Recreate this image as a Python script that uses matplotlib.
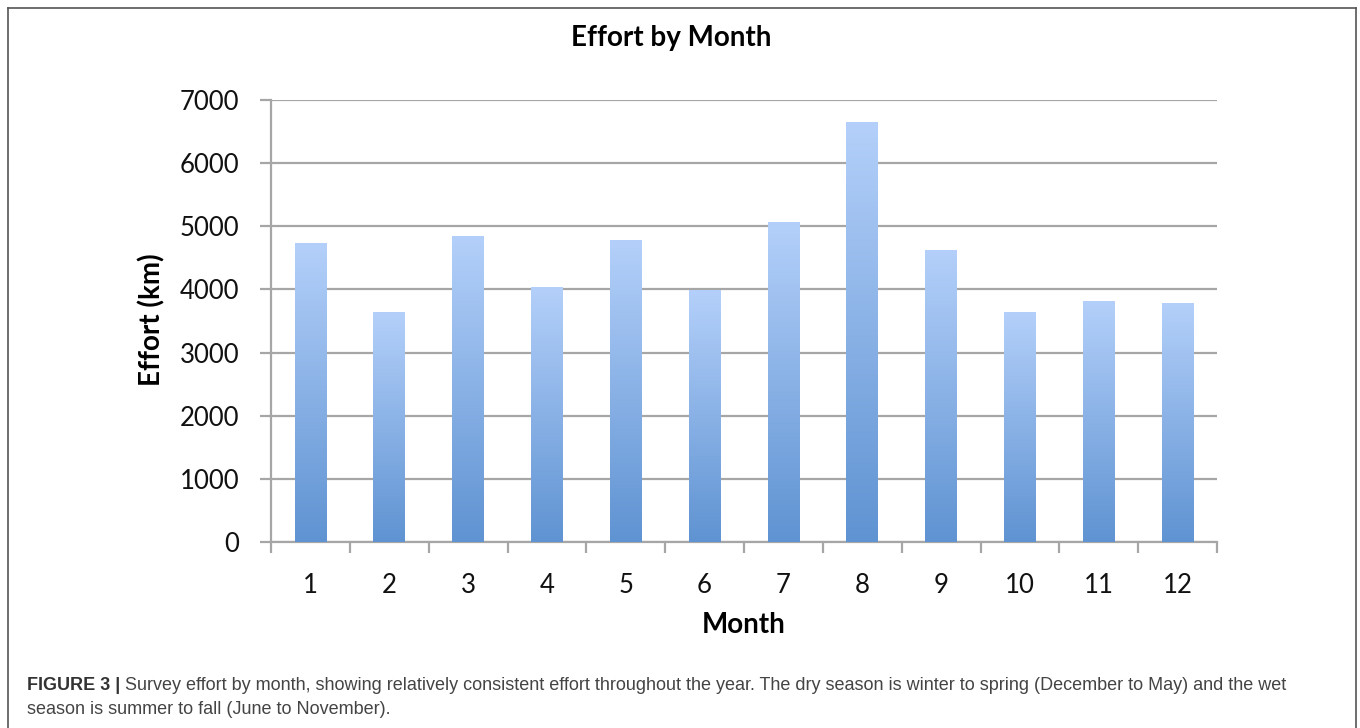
import numpy as np
import matplotlib.pyplot as plt
from matplotlib.lines import Line2D
from matplotlib.colors import LinearSegmentedColormap

# =========================
# Data
# =========================
months = [1, 2, 3, 4, 5, 6, 7, 8, 9, 10, 11, 12]
effort_km = [4740, 3640, 4850, 4040, 4780, 3990, 5060, 6650, 4630, 3650, 3820, 3790]
y_ticks = [0, 1000, 2000, 3000, 4000, 5000, 6000, 7000]

title = "Effort by Month"
xlabel = "Month"
ylabel = "Effort (km)"
caption_bold = "FIGURE 3 |"
caption_line1 = (" Survey effort by month, showing relatively consistent effort throughout "
                 "the year. The dry season is winter to spring (December to May) and the wet")
caption_line2 = "season is summer to fall (June to November)."

# =========================
# Style
# =========================
W, H, DPI = 1360, 728, 100
grid_col = "#a6a6a6"
txt_font = ["Lato", "DejaVu Sans"]
cap_font = ["Liberation Sans", "DejaVu Sans"]

fig = plt.figure(figsize=(W / DPI, H / DPI), dpi=DPI)
fig.patch.set_facecolor("white")

# plot box in pixels: left 271, right 1217, top 100, bottom 542
ax = fig.add_axes([271 / W, 1 - 542 / H, (1217 - 271) / W, (542 - 100) / H])

# gradient bars, light at top, darker at bottom
bar_cmap = LinearSegmentedColormap.from_list("bar", ["#5f93d2", "#b4d0fa"])
grad = np.linspace(0, 1, 256).reshape(-1, 1)
bars = ax.bar(months, effort_km, width=0.4, color="none", edgecolor="none", zorder=3)
for b, m, v in zip(bars, months, effort_km):
    im = ax.imshow(grad, cmap=bar_cmap, origin="lower", aspect="auto",
                   extent=[m - 0.2, m + 0.2, 0, v], zorder=3, interpolation="bicubic")
    im.set_clip_path(b)

ax.set_xlim(0.5, 12.5)
ax.set_ylim(0, 7000)

# grid + axes
ax.set_yticks(y_ticks)
ax.yaxis.grid(True, color=grid_col, linewidth=1.6)
ax.set_axisbelow(True)
for s in ["top", "right"]:
    ax.spines[s].set_visible(False)
for s in ["left", "bottom"]:
    ax.spines[s].set_color(grid_col)
    ax.spines[s].set_linewidth(1.6)

ax.set_xticks(months)
ax.set_xticks(np.arange(0.5, 13, 1.0), minor=True)
ax.tick_params(axis="x", which="major", length=0, pad=22)
ax.tick_params(axis="x", which="minor", length=8, width=1.6, color=grid_col, direction="out")
ax.tick_params(axis="y", which="major", length=8, width=1.6, color=grid_col, pad=15)

for lab in ax.get_xticklabels() + ax.get_yticklabels():
    lab.set_fontfamily(txt_font)
    lab.set_fontsize(18.5)
    lab.set_color("#111111")

# titles
fig.text(671 / W, 1 - 38 / H, title, ha="center", va="center",
         fontsize=20, fontweight="bold", family=txt_font)
fig.text(744 / W, 1 - 625 / H, xlabel, ha="center", va="center",
         fontsize=20, fontweight="bold", family=txt_font)
fig.text(152 / W, 1 - 320 / H, ylabel, ha="center", va="center", rotation=90,
         fontsize=20, fontweight="bold", family=txt_font)

# caption
cap_size = 13
x0 = 27 / W
t_bold = fig.text(x0, 1 - 686 / H, caption_bold, ha="left", va="center",
                  fontsize=cap_size, fontweight="bold", family=cap_font, color="#333333")
renderer = fig.canvas.get_renderer()
bb = t_bold.get_window_extent(renderer=renderer)
fig.text(bb.x1 / W, 1 - 686 / H, caption_line1, ha="left", va="center",
         fontsize=cap_size, family=cap_font, color="#444444")
fig.text(x0, 1 - 709 / H, caption_line2, ha="left", va="center",
         fontsize=cap_size, family=cap_font, color="#444444")

# outer frame (no bottom edge visible)
frame_col = "#555555"
fig.add_artist(Line2D([7.5 / W, 7.5 / W], [0, 1 - 8 / H], color=frame_col, lw=1.2))
fig.add_artist(Line2D([1355.5 / W, 1355.5 / W], [0, 1 - 8 / H], color=frame_col, lw=1.2))
fig.add_artist(Line2D([7.5 / W, 1355.5 / W], [1 - 8 / H, 1 - 8 / H], color=frame_col, lw=1.2))

fig.savefig("out.png", dpi=DPI)
